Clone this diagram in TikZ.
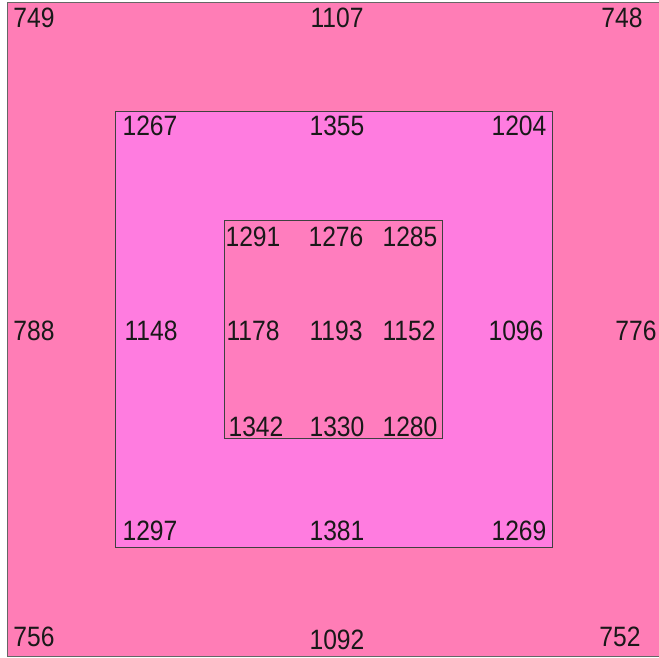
\documentclass[tikz,border=0pt]{standalone}
\usepackage{fontspec}
\setmainfont{Liberation Sans}
\newfontfamily\cifras[FakeStretch=0.88]{Liberation Sans}
\usepackage{tikz}
\definecolor{rosaFuera}{HTML}{FF7DB6}
\definecolor{rosaMedio}{HTML}{FF7CE0}
\definecolor{rosaDentro}{HTML}{FF7DBE}
\tikzset{
  valor/.style={inner sep=0pt, font=\cifras\fontsize{28}{28}\selectfont, text=black!90},
  marco/.style={draw=black!75, line width=0.8pt}
}
\begin{document}
\begin{tikzpicture}[x=1pt, y=-1pt]
        \useasboundingbox (0,0) rectangle (659,658);
        % Cuadros
        \fill[white] (0,0) rectangle (659,658);
        \filldraw[rosaFuera, draw=black!60, line width=0.8pt] (7,2) rectangle (660,656);
        \filldraw[rosaMedio, marco] (115,111) rectangle (552,547);
        \filldraw[rosaDentro, marco] (224,220) rectangle (442,438);

        % Exterior
        \node[valor] (e1) at (34,18) {749};
        \node[valor] (e2) at (337,18) {1107};
        \node[valor] (e3) at (622,18) {748};
        \node[valor] (e4) at (34,331) {788};
        \node[valor] (e5) at (636,331) {776};
        \node[valor] (e6) at (34,637) {756};
        \node[valor] (e7) at (337,640) {1092};
        \node[valor] (e8) at (620,637) {752};

        % Medio
        \node[valor] (m1) at (150,126) {1267};
        \node[valor] (m2) at (337,126) {1355};
        \node[valor] (m3) at (519,126) {1204};
        \node[valor] (m4) at (151,331) {1148};
        \node[valor] (m5) at (516,331) {1096};
        \node[valor] (m6) at (150,531) {1297};
        \node[valor] (m7) at (337,531) {1381};
        \node[valor] (m8) at (519,531) {1269};

        % Interior
        \node[valor] (i1) at (253,237) {1291};
        \node[valor] (i2) at (336,237) {1276};
        \node[valor] (i3) at (410,237) {1285};
        \node[valor] (i4) at (253,331) {1178};
        \node[valor] (i5) at (336,331) {1193};
        \node[valor] (i6) at (409,331) {1152};
        \node[valor] (i7) at (256,427) {1342};
        \node[valor] (i8) at (337,427) {1330};
        \node[valor] (i9) at (410,427) {1280};
    \end{tikzpicture}
\end{document}
